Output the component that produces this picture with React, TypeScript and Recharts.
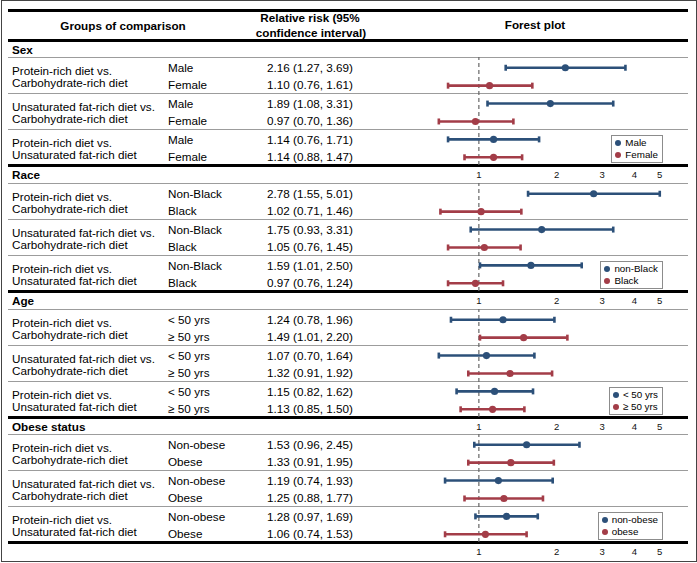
import React from 'react';
import { ScatterChart, Scatter, XAxis, YAxis, ErrorBar, ReferenceLine, Legend } from 'recharts';

const sections = ['Sex', 'Race', 'Age', 'Obese status'];

const comparisons = [
  ['Protein-rich diet vs.', 'Carbohydrate-rich diet'],
  ['Unsaturated fat-rich diet vs.', 'Carbohydrate-rich diet'],
  ['Protein-rich diet vs.', 'Unsaturated fat-rich diet'],
];

const subgroupLabels = [
  ['Male', 'Female'],
  ['Non-Black', 'Black'],
  ['< 50 yrs', '≥ 50 yrs'],
  ['Non-obese', 'Obese'],
];

const legendLabels = [
  ['Male', 'Female'],
  ['non-Black', 'Black'],
  ['< 50 yrs', '≥ 50 yrs'],
  ['non-obese', 'obese'],
];

// rows: comparison 1 (A, B), comparison 2 (A, B), comparison 3 (A, B)
const sexRR = [2.16, 1.1, 1.89, 0.97, 1.14, 1.14];
const sexLow = [1.27, 0.76, 1.08, 0.7, 0.76, 0.88];
const sexHigh = [3.69, 1.61, 3.31, 1.36, 1.71, 1.47];

const raceRR = [2.78, 1.02, 1.75, 1.05, 1.59, 0.97];
const raceLow = [1.55, 0.71, 0.93, 0.76, 1.01, 0.76];
const raceHigh = [5.01, 1.46, 3.31, 1.45, 2.5, 1.24];

const ageRR = [1.24, 1.49, 1.07, 1.32, 1.15, 1.13];
const ageLow = [0.78, 1.01, 0.7, 0.91, 0.82, 0.85];
const ageHigh = [1.96, 2.2, 1.64, 1.92, 1.62, 1.5];

const obeseRR = [1.53, 1.33, 1.19, 1.25, 1.28, 1.06];
const obeseLow = [0.96, 0.91, 0.74, 0.88, 0.97, 0.74];
const obeseHigh = [2.45, 1.95, 1.93, 1.77, 1.69, 1.53];

const xTicks = [1, 2, 3, 4, 5];

const sectionData = [
  { rr: sexRR, low: sexLow, high: sexHigh },
  { rr: raceRR, low: raceLow, high: raceHigh },
  { rr: ageRR, low: ageLow, high: ageHigh },
  { rr: obeseRR, low: obeseLow, high: obeseHigh },
];

const BLUE = '#2c5079';
const RED = '#a33d48';
const FONT = '"Liberation Sans", Arial, Helvetica, sans-serif';

const TABLE_L = 8;
const TABLE_R = 688;
const SECTION_TOP = [40, 165, 291, 417];
const BLOCK_TOP = [57, 183, 309, 434];
const BLOCK_H = 108;
const CHART_L = 376;
const CHART_W = 313;

const Line = ({ y, thick }: { y: number; thick?: boolean }) => (
  <div
    style={{
      position: 'absolute',
      left: TABLE_L,
      width: TABLE_R - TABLE_L,
      top: thick ? y - 1.5 : y - 0.5,
      height: thick ? 3 : 1,
      background: thick ? '#000' : '#9c9c9c',
    }}
  />
);

const T = ({ x, y, text, bold, align, size }: any) => {
  const w = 220;
  const left = align === 'center' ? x - w / 2 : x;
  return (
    <div
      style={{
        position: 'absolute',
        left,
        top: y - 7,
        width: w,
        lineHeight: '14px',
        textAlign: align || 'left',
        fontSize: size || 11.7,
        fontWeight: bold ? 'bold' : 'normal',
        whiteSpace: 'nowrap',
        color: '#000',
      }}
    >
      {text}
    </div>
  );
};

const fmt = (v: number) => v.toFixed(2);

const makeLegend = (order: string[]) => (props: any) => {
  const items = [...(props.payload || [])].sort(
    (a: any, b: any) => order.indexOf(a.value) - order.indexOf(b.value)
  );
  return (
    <div
      style={{
        background: '#fff',
        border: '1px solid #8c8c8c',
        padding: '1px 4px 1px 3px',
        fontSize: 9.8,
        lineHeight: '12px',
        fontFamily: FONT,
        color: '#000',
      }}
    >
      {items.map((e: any) => (
        <div key={e.value} style={{ display: 'flex', alignItems: 'center', whiteSpace: 'nowrap' }}>
          <span
            style={{
              display: 'inline-block',
              width: 6,
              height: 6,
              borderRadius: 3,
              background: e.color,
              marginRight: 4,
            }}
          />
          {e.value}
        </div>
      ))}
    </div>
  );
};

const SectionChart = ({ k }: { k: number }) => {
  const { rr, low, high } = sectionData[k];
  const rows = rr.map((v, i) => ({ x: v, y: i, err: [v - low[i], high[i] - v] }));
  const seriesA = rows.filter((_, i) => i % 2 === 0);
  const seriesB = rows.filter((_, i) => i % 2 === 1);
  const [la, lb] = legendLabels[k];
  return (
    <div style={{ position: 'absolute', left: CHART_L, top: BLOCK_TOP[k] }}>
      <ScatterChart width={CHART_W} height={BLOCK_H + 18} margin={{ top: 0, right: 0, bottom: 0, left: 0 }}>
        <XAxis
          type="number"
          dataKey="x"
          scale="log"
          domain={[0.4, 6.5]}
          allowDataOverflow
          ticks={xTicks}
          tickLine={false}
          axisLine={false}
          tickSize={0}
          tickMargin={6}
          height={18}
          tick={{ fontSize: 9.5, fill: '#111', fontFamily: FONT }}
        />
        <YAxis type="number" dataKey="y" domain={[-0.6, 5.43]} reversed hide allowDataOverflow />
        <ReferenceLine x={1} stroke="#666" strokeWidth={1.2} strokeDasharray="4 3" />
        <Scatter
          name={la}
          data={seriesA}
          fill={BLUE}
          isAnimationActive={false}
          shape={(p: any) => <circle cx={p.cx} cy={p.cy} r={3.6} fill={BLUE} />}
        >
          <ErrorBar dataKey="err" direction="x" width={3} stroke={BLUE} strokeWidth={2.6} isAnimationActive={false} />
        </Scatter>
        <Scatter
          name={lb}
          data={seriesB}
          fill={RED}
          isAnimationActive={false}
          shape={(p: any) => <circle cx={p.cx} cy={p.cy} r={3.6} fill={RED} />}
        >
          <ErrorBar dataKey="err" direction="x" width={3} stroke={RED} strokeWidth={2.6} isAnimationActive={false} />
        </Scatter>
        <Legend
          layout="vertical"
          align="center"
          verticalAlign="middle"
          wrapperStyle={{ right: CHART_L + CHART_W - 663, bottom: 20, left: 'auto', top: 'auto', width: 'auto' }}
          content={makeLegend([la, lb])}
        />
      </ScatterChart>
    </div>
  );
};

export default function App() {
  return (
    <div
      style={{
        position: 'absolute',
        left: 0,
        top: 0,
        width: 697,
        height: 563,
        background: '#fff',
        fontFamily: FONT,
        overflow: 'hidden',
      }}
    >
      <div
        style={{
          position: 'absolute',
          left: 1,
          top: 0,
          width: 694,
          height: 560,
          border: '1px solid #444',
        }}
      />
      <Line y={10} thick />
      <Line y={40} thick />
      <T x={123} y={26} text="Groups of comparison" bold align="center" />
      <T x={310} y={18} text="Relative risk (95%" bold align="center" />
      <T x={311} y={33} text="confidence interval)" bold align="center" />
      <T x={535} y={25} text="Forest plot" bold align="center" />

      {sections.map((name, k) => {
        const top = BLOCK_TOP[k];
        const { rr, low, high } = sectionData[k];
        return (
          <React.Fragment key={name}>
            <T x={12} y={SECTION_TOP[k] + 9.5} text={name} bold />
            {[0, 1, 2].map((g) => (
              <React.Fragment key={g}>
                <Line y={top + 36 * g} />
                <T x={12} y={top + 36 * g + 13.5} text={comparisons[g][0]} />
                <T x={12} y={top + 36 * g + 25.5} text={comparisons[g][1]} />
                {[0, 1].map((s) => {
                  const i = g * 2 + s;
                  return (
                    <React.Fragment key={s}>
                      <T x={168} y={top + 36 * g + 11 + 17 * s} text={subgroupLabels[k][s]} />
                      <T
                        x={310}
                        y={top + 36 * g + 11 + 17 * s}
                        align="center"
                        text={`${fmt(rr[i])} (${fmt(low[i])}, ${fmt(high[i])})`}
                      />
                    </React.Fragment>
                  );
                })}
              </React.Fragment>
            ))}
            <Line y={top + BLOCK_H} thick />
            <SectionChart k={k} />
          </React.Fragment>
        );
      })}
    </div>
  );
}
